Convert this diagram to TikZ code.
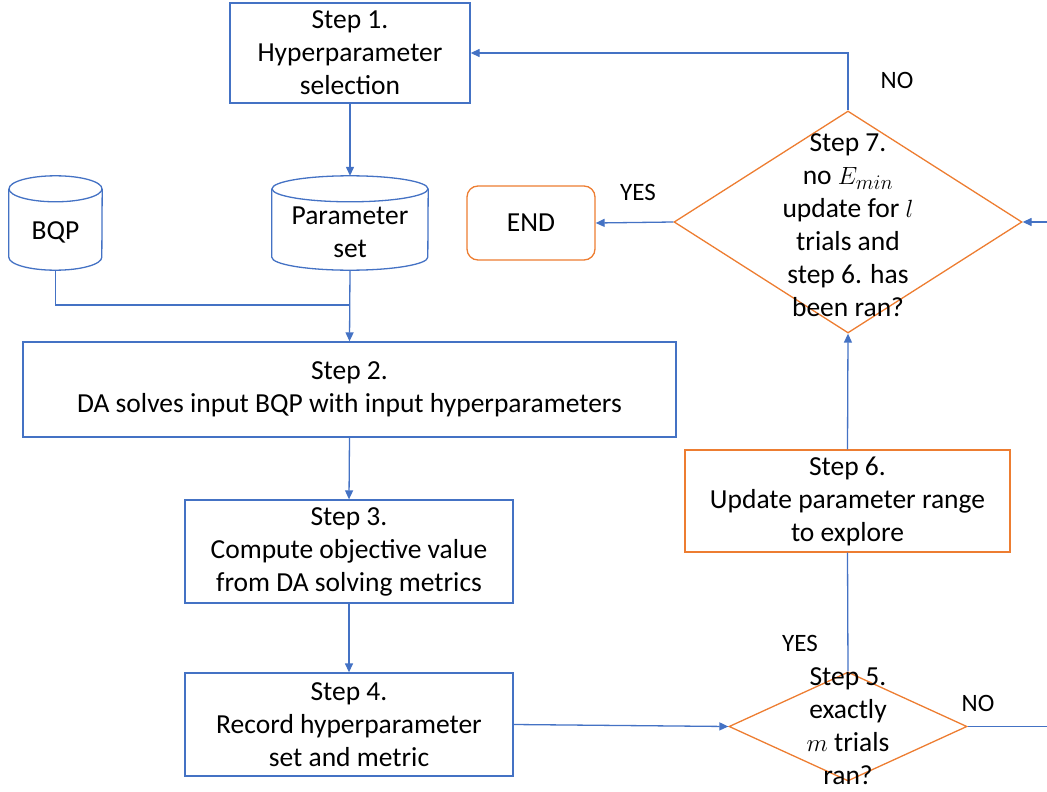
\documentclass[tikz,border=0pt]{standalone}
\usepackage{fontspec}
\setmainfont{Carlito}
\usetikzlibrary{shapes.geometric,arrows.meta}
\definecolor{fblue}{HTML}{4472C4}
\definecolor{forange}{HTML}{ED7D31}
\begin{document}
\begin{tikzpicture}[x=1pt,y=-1pt,
  every node/.style={font=\fontsize{27.5}{33}\selectfont, align=center, inner sep=0pt},
  bbox/.style={draw=fblue, line width=1.3pt, rectangle},
  obox/.style={draw=forange, line width=1.3pt, rectangle},
  dmd/.style={draw=forange, line width=1.3pt, diamond},
  conn/.style={draw=fblue, line width=1.3pt},
  arr/.style={conn, -{Triangle[length=9pt,width=8pt]}},
  lbl/.style={font=\fontsize{25}{30}\selectfont}
]
\useasboundingbox (0,0) rectangle (1047,792);
\clip (0,0) rectangle (1047,792);

% Boxes
\node[bbox, minimum width=240, minimum height=100] (s1) at (350,53) {Step 1.\\Hyperparameter\\selection};
\node[bbox, minimum width=653, minimum height=95] (s2) at (349.5,389.5) {Step 2.\\DA solves input BQP with input hyperparameters};
\node[bbox, minimum width=328, minimum height=103] (s3) at (349,551.5) {Step 3.\\Compute objective value\\from DA solving metrics};
\node[bbox, minimum width=328, minimum height=103] (s4) at (349,724.5) {Step 4.\\Record hyperparameter\\set and metric};
\node[obox, minimum width=325, minimum height=102] (s6) at (847.5,501) {Step 6.\\Update parameter range\\to explore};
\node[obox, rounded corners=11pt, minimum width=128, minimum height=74] (end) at (531,223) {END};

% Diamonds
\node[dmd, minimum width=238, minimum height=109] (s5) at (848,726.5) {};
\node (s5t) at (848,726.5) {Step 5.\\exactly\\$m$ trials\\ran?};
\node[dmd, minimum width=348, minimum height=222] (s7) at (848,222) {};
\node (s7t) at (848,225) {Step 7.\\no $E_{min}$\\update for $l$\\trials and\\step 6. has\\been ran?};

% Cylinders
\node[minimum width=93, minimum height=94] (bqp) at (55.5,223) {};
\node[minimum width=156, minimum height=94] (ps) at (350,223) {};
\draw[conn] ([yshift=-13pt]bqp.north) ellipse [x radius=46.5pt, y radius=13pt];
\draw[conn] ([yshift=-13pt]bqp.north west) -- ([yshift=13pt]bqp.south west)
   arc[start angle=180, end angle=360, x radius=46.5pt, y radius=13pt] -- ([yshift=-13pt]bqp.north east);
\draw[conn] ([yshift=-13pt]ps.north) ellipse [x radius=78pt, y radius=13pt];
\draw[conn] ([yshift=-13pt]ps.north west) -- ([yshift=13pt]ps.south west)
   arc[start angle=180, end angle=360, x radius=78pt, y radius=13pt] -- ([yshift=-13pt]ps.north east);
\node (bqpt) at (55.5,232) {BQP};
\node (pst) at (350,232) {Parameter\\set};

% Connectors
\coordinate (jn) at (350,305);
\draw[arr] (s1.south) -- (ps.north);
\draw[conn] (bqp.south) |- (jn);
\draw[arr] (ps.south) -- (s2.north);
\draw[arr] (s2.south) -- (s3.north);
\draw[arr] (s3.south) -- (s4.north);
\draw[arr] (s4.east) -- (s5.west);
\draw[conn] (s5.north) -- (s6.south);
\draw[arr] (s6.north) -- (s7.south);
\draw[arr] (s7.north) |- (s1.east);
\draw[arr] (s7.west) -- (end.east);
\draw[arr] (s5.east) -- ++(120,0) |- (s7.east);

% Labels
\node[lbl] (lno1) at (897,80) {NO};
\node[lbl] (lyes1) at (638,192) {YES};
\node[lbl] (lyes2) at (800,643) {YES};
\node[lbl] (lno2) at (978,703) {NO};
\end{tikzpicture}
\end{document}
